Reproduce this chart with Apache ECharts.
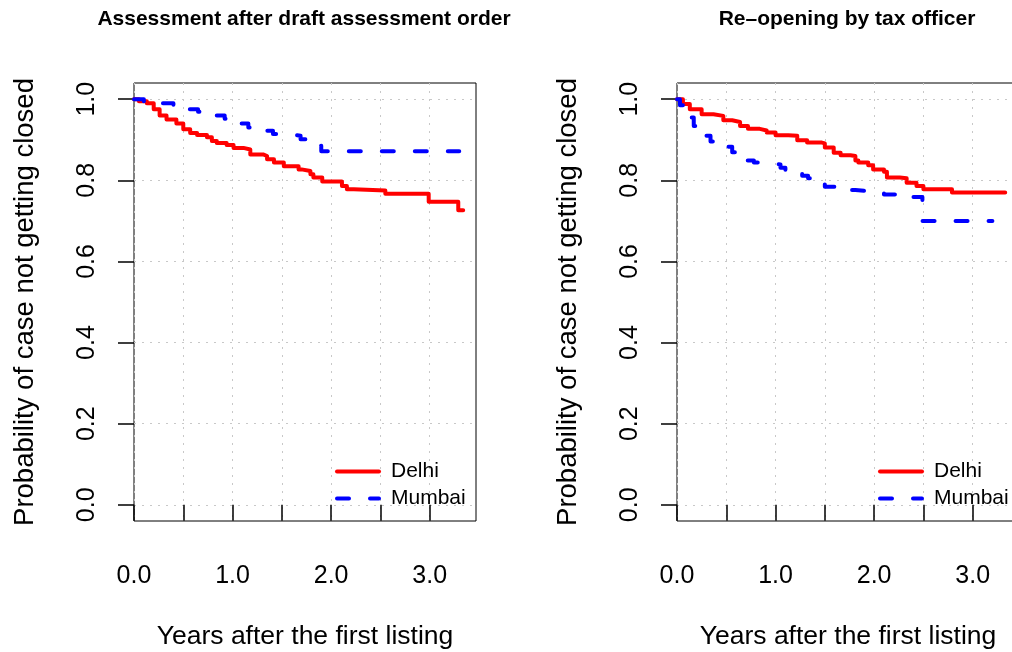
<!DOCTYPE html>
<html>
<head>
<meta charset="utf-8">
<script src="https://cdn.jsdelivr.net/npm/echarts@6/dist/echarts.min.js"></script>
<style>
  html, body { margin: 0; padding: 0; background: #fff; }
  #main { width: 1012px; height: 652px; }
</style>
</head>
<body>
<div id="main"></div>
<script>
// survival curves: [years, probability]
const delhiDraft = [
  [0, 1.0], [0.05, 0.995], [0.13, 0.99], [0.2, 0.975], [0.26, 0.96], [0.33, 0.95],
  [0.43, 0.94], [0.5, 0.926], [0.57, 0.917], [0.64, 0.912], [0.74, 0.906], [0.79, 0.897],
  [0.84, 0.892], [0.94, 0.887], [1.01, 0.88], [1.11, 0.876], [1.18, 0.864], [1.31, 0.86],
  [1.35, 0.852], [1.42, 0.844], [1.52, 0.835], [1.67, 0.827], [1.7, 0.823], [1.79, 0.815],
  [1.82, 0.807], [1.91, 0.797], [2.11, 0.786], [2.16, 0.778], [2.23, 0.775], [2.55, 0.767],
  [2.99, 0.747], [3.29, 0.726], [3.34, 0.726]
];
const mumbaiDraft = [
  [0, 1.0], [0.1, 0.995], [0.25, 0.99], [0.4, 0.984], [0.55, 0.975], [0.65, 0.969],
  [0.8, 0.96], [0.92, 0.952], [1.04, 0.94], [1.16, 0.93], [1.3, 0.922], [1.41, 0.914],
  [1.57, 0.91], [1.69, 0.901], [1.84, 0.897], [1.87, 0.885], [1.9, 0.872], [3.3, 0.872]
];
const delhiReopen = [
  [0, 1.0], [0.06, 0.988], [0.13, 0.975], [0.25, 0.963], [0.37, 0.959], [0.47, 0.948],
  [0.56, 0.944], [0.64, 0.934], [0.72, 0.927], [0.84, 0.923], [0.91, 0.918], [1.0, 0.911],
  [1.13, 0.91], [1.22, 0.899], [1.32, 0.893], [1.47, 0.891], [1.5, 0.881], [1.59, 0.868],
  [1.66, 0.862], [1.76, 0.86], [1.81, 0.849], [1.84, 0.844], [1.94, 0.837], [1.99, 0.827],
  [2.1, 0.821], [2.13, 0.807], [2.26, 0.805], [2.33, 0.794], [2.43, 0.786], [2.5, 0.778],
  [2.79, 0.77], [3.33, 0.77]
];
const mumbaiReopen = [
  [0, 1.0], [0.03, 0.985], [0.07, 0.97], [0.13, 0.955], [0.17, 0.934], [0.21, 0.92],
  [0.25, 0.91], [0.34, 0.896], [0.4, 0.89], [0.47, 0.883], [0.56, 0.869], [0.62, 0.86],
  [0.67, 0.849], [0.78, 0.844], [0.85, 0.842], [0.94, 0.839], [1.05, 0.831], [1.1, 0.825],
  [1.16, 0.819], [1.27, 0.811], [1.33, 0.805], [1.4, 0.79], [1.5, 0.784], [1.69, 0.776],
  [1.81, 0.774], [1.9, 0.771], [2.0, 0.77], [2.1, 0.765], [2.29, 0.759], [2.49, 0.7],
  [3.2, 0.7]
];

const panelTitles = ['Assessment after draft assessment order', 'Re–opening by tax officer'];
const seriesNames = ['Delhi', 'Mumbai'];
const xTicks = [0, 0.5, 1, 1.5, 2, 2.5, 3];
const xLabels = [0, 1, 2, 3];
const yTicks = [0, 0.2, 0.4, 0.6, 0.8, 1.0];

const FONT = '"Liberation Sans", Helvetica, Arial, sans-serif';

let chart = echarts.init(document.getElementById('main'));

function makeGrid(left) {
  return {
    left: left, top: 83, width: 342, height: 438,
    show: true, borderColor: '#000', borderWidth: 1,
    outerBoundsMode: 'none'
  };
}

function makeX(i) {
  return {
    type: 'value', gridIndex: i, min: 0, max: 3.47,
    name: 'Years after the first listing',
    nameLocation: 'middle', nameGap: 102,
    nameTextStyle: { fontFamily: FONT, fontSize: 26.5, color: '#000' },
    axisLine: { show: false },
    axisTick: { show: true, inside: false, length: 16, customValues: xTicks,
      lineStyle: { color: '#000', width: 1.5 } },
    axisLabel: { customValues: xLabels, margin: 43, fontFamily: FONT, fontSize: 25, color: '#000',
      formatter: function (v) { return v.toFixed(1); } },
    splitLine: { show: true, lineStyle: { color: '#c8c8c8', width: 1, type: [2, 6] } }
  };
}

function makeY(i) {
  return {
    type: 'value', gridIndex: i, min: -0.04, max: 1.04,
    name: 'Probability of case not getting closed',
    nameLocation: 'middle', nameGap: 95, nameRotate: 90,
    nameTextStyle: { fontFamily: FONT, fontSize: 27.5, color: '#000' },
    axisLine: { show: false },
    axisTick: { show: true, inside: false, length: 16, customValues: yTicks,
      lineStyle: { color: '#000', width: 1.5 } },
    axisLabel: { customValues: yTicks, rotate: 90, margin: 34, fontFamily: FONT, fontSize: 25, color: '#000',
      formatter: function (v) { return v.toFixed(1); } },
    splitLine: { show: true, lineStyle: { color: '#c8c8c8', width: 1, type: [2, 6] } }
  };
}

function makeLine(name, data, i) {
  let dashed = name === 'Mumbai';
  return {
    name: name, type: 'line', xAxisIndex: i, yAxisIndex: i,
    data: data, step: 'end', showSymbol: false, symbol: 'none',
    lineStyle: {
      color: dashed ? '#0000ff' : '#ff0000', width: 4,
      type: dashed ? [12, 21] : 'solid', cap: 'round', join: 'round'
    },
    itemStyle: { color: dashed ? '#0000ff' : '#ff0000' }
  };
}

function makeLegend(left) {
  return {
    data: seriesNames, orient: 'vertical', left: left, top: 456,
    itemWidth: 42, itemHeight: 20, itemGap: 6,
    itemStyle: { opacity: 0 },
    lineStyle: { width: 4 },
    textStyle: { fontFamily: FONT, fontSize: 21, color: '#000', lineHeight: 20, padding: [0, 0, 0, 7] }
  };
}

let option = {
  animation: false,
  backgroundColor: '#fff',
  title: [
    { text: panelTitles[0], left: 299, top: 4, textAlign: 'center',
      textStyle: { fontFamily: FONT, fontSize: 21, fontWeight: 'bold', color: '#000' } },
    { text: panelTitles[1], left: 842, top: 4, textAlign: 'center',
      textStyle: { fontFamily: FONT, fontSize: 21, fontWeight: 'bold', color: '#000' } }
  ],
  legend: [makeLegend(330), makeLegend(873)],
  grid: [makeGrid(134), makeGrid(677)],
  xAxis: [makeX(0), makeX(1)],
  yAxis: [makeY(0), makeY(1)],
  series: [
    makeLine('Delhi', delhiDraft, 0),
    makeLine('Mumbai', mumbaiDraft, 0),
    makeLine('Delhi', delhiReopen, 1),
    makeLine('Mumbai', mumbaiReopen, 1)
  ]
};

chart.setOption(option);
</script>
</body>
</html>
